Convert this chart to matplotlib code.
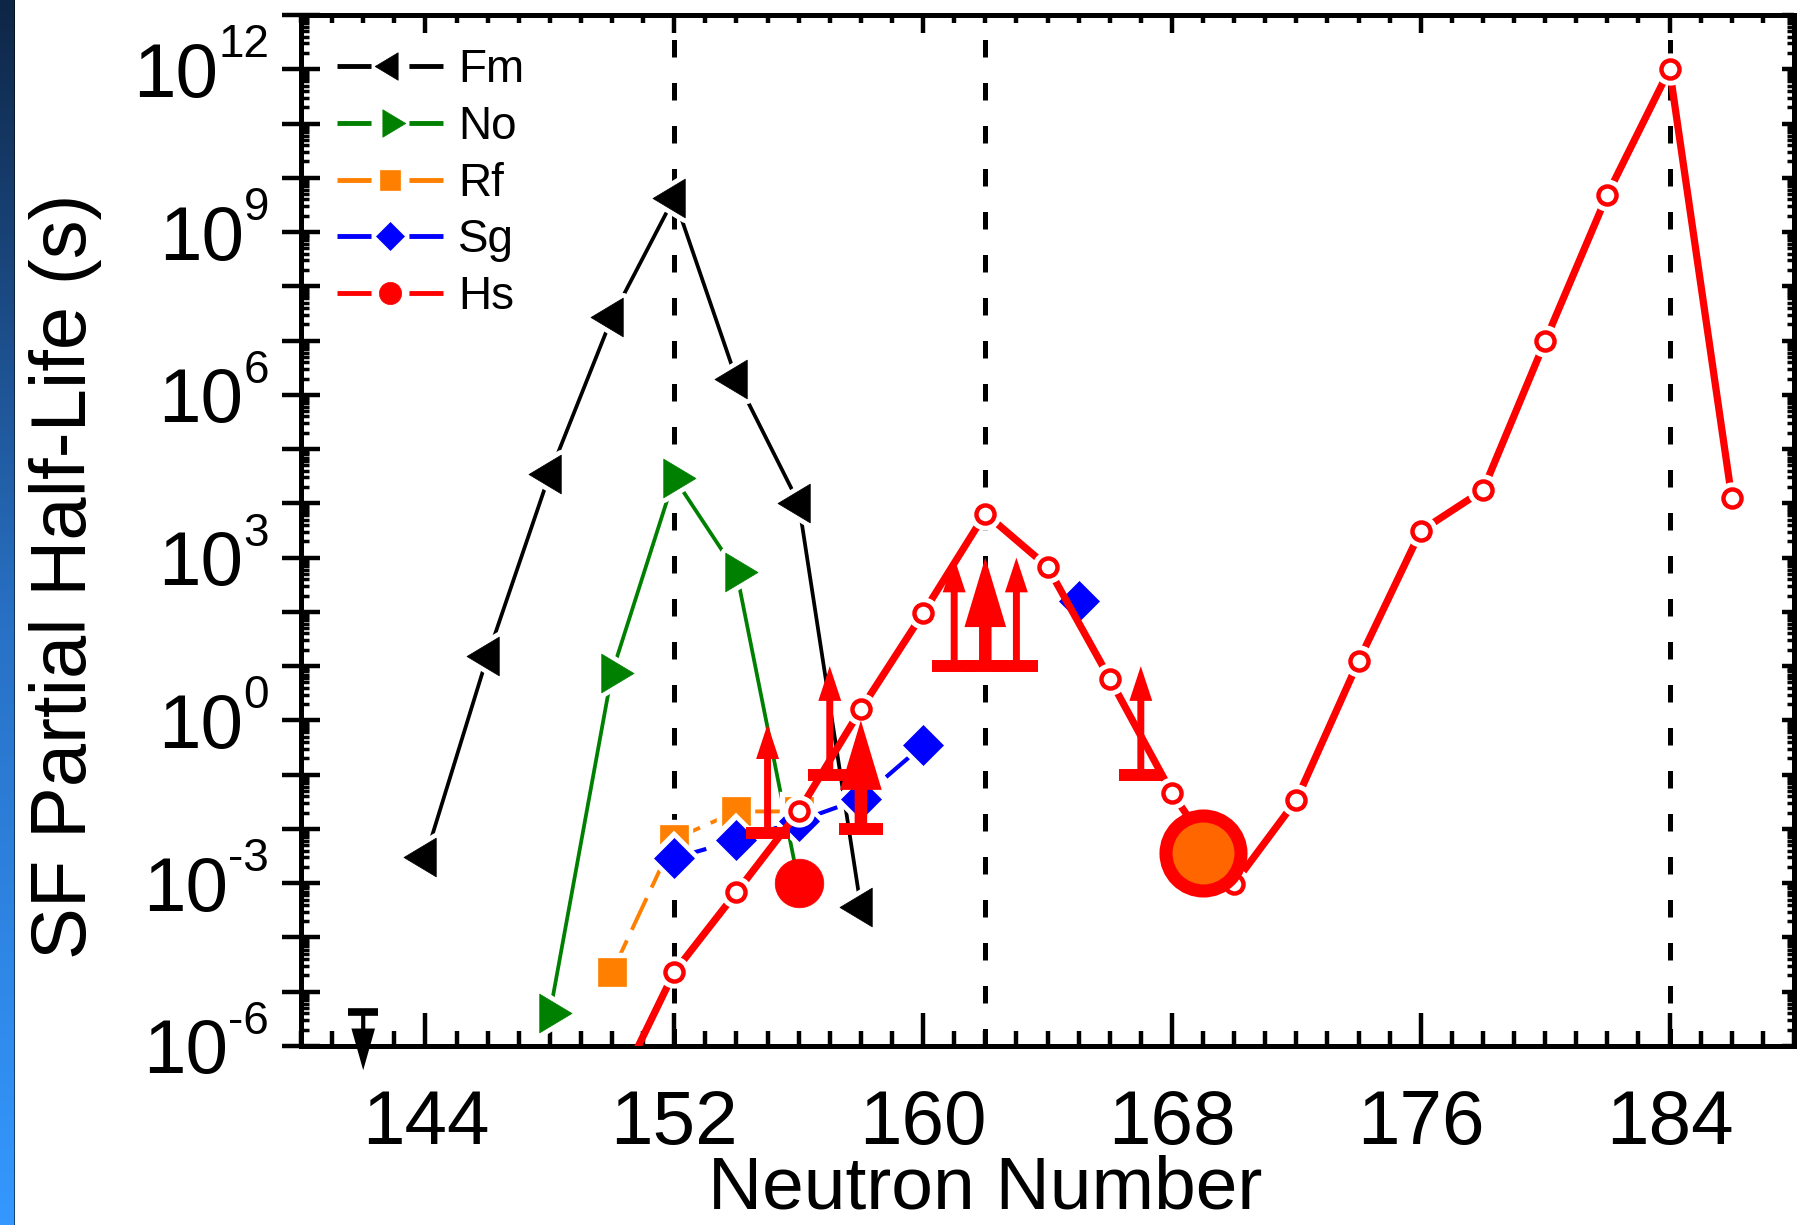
import numpy as np
import matplotlib
matplotlib.use('Agg')
import matplotlib.pyplot as plt
from matplotlib.path import Path
from matplotlib.markers import MarkerStyle
from matplotlib.lines import Line2D
from matplotlib.patches import FancyArrowPatch, ArrowStyle
from matplotlib.ticker import FixedLocator, LogLocator, NullFormatter, MultipleLocator
import matplotlib.transforms as mtransforms

plt.rcParams['font.family'] = ['Liberation Sans', 'DejaVu Sans']

# ---------------- data ----------------
fm_n = [144, 146, 148, 150, 152, 154, 156, 158]
fm_t = [3.0e-3, 1.55e1, 3.55e4, 2.7e7, 4.3e9, 1.95e6, 1.02e4, 3.6e-4]
fm_lim_n = [142]
fm_lim_t = [4.3e-6]          # upper limit

no_n = [148, 150, 152, 154, 156]
no_t = [4.0e-6, 7.6, 2.95e4, 5.4e2, 1.0e-3]

rf_n = [150, 152, 154, 156]
rf_t = [2.3e-5, 6.5e-3, 2.1e-2, 2.1e-2]

sg_n = [152, 154, 156, 158, 160]
sg_t = [2.9e-3, 6.2e-3, 1.4e-2, 3.6e-2, 0.35]
sg_iso_n = [165]
sg_iso_t = [1.6e2]

hs_n = [150, 152, 154, 156, 158, 160, 162, 164, 166, 168, 170, 172, 174, 176,
        178, 180, 182, 184, 186]
hs_t = [1.0e-7, 2.3e-5, 6.8e-4, 2.1e-2, 1.6, 95, 6.5e3, 6.8e2, 5.9, 4.6e-2,
        9.8e-4, 3.4e-2, 12.3, 3.1e3, 1.74e4, 9.8e6, 4.9e9, 1.0e12, 1.26e4]

hs_exp_n = [156]
hs_exp_t = [1.0e-3]
hs_new_n = [169]
hs_new_t = [3.6e-3]

hs_lim_n = [155, 157, 158, 161, 162, 163, 167]
hs_lim_t = [8.5e-3, 0.1, 1.0e-2, 10, 10, 10, 0.1]       # lower limits
hs_lim_thick = [False, False, True, False, True, False, False]

magic_n = [152, 162, 184]

xticks_major = [144, 152, 160, 168, 176, 184]
ytick_exponents = [-6, -3, 0, 3, 6, 9, 12]
legend_labels = ['Fm', 'No', 'Rf', 'Sg', 'Hs']

# ---------------- figure ----------------
W, H = 1799, 1225
fig = plt.figure(figsize=(W / 100, H / 100), dpi=100)

# left gradient strip
sax = fig.add_axes([0, 0, 15 / W, 1])
sax.axis('off')
stops_y = [0.0, 0.5, 1.0]
stops_c = np.array([[14, 38, 70], [40, 112, 196], [52, 152, 255]]) / 255.0
yy = np.linspace(0, 1, 256)
grad = np.stack([np.interp(yy, stops_y, stops_c[:, k]) for k in range(3)], axis=-1)
img = np.repeat(grad[:, None, :], 15, axis=1)
img[:, 14, :] = img[:, 14, :] * 0.45
sax.imshow(img, aspect='auto', interpolation='nearest', extent=[0, 1, 0, 1])

ax = fig.add_axes([301 / W, (H - 1046) / H, (1794 - 301) / W, (1046 - 15) / H])
ax.set_yscale('log')
ax.set_xlim(140, 188)
ax.set_ylim(1e-6, 1e13)

for s in ax.spines.values():
    s.set_linewidth(3.6)

# magic numbers
for m in magic_n:
    ax.axvline(m, color='black', lw=3.6, ls=(0, (3.5, 5.1)), zorder=1)

# custom triangles centred on centroid
def tri(direction):
    if direction == 'left':
        v = [(-2 / 3, 0), (1 / 3, 0.6), (1 / 3, -0.6), (-2 / 3, 0)]
    else:
        v = [(2 / 3, 0), (-1 / 3, 0.6), (-1 / 3, -0.6), (2 / 3, 0)]
    p = Path(v, [Path.MOVETO, Path.LINETO, Path.LINETO, Path.CLOSEPOLY])
    return MarkerStyle(p, joinstyle='round')

tri_l = tri('left')
tri_r = tri('right')

HALO = 7.0

def series(n, t, marker, color, ms, lw, ls, z, mfc=None, mew=0.5, line=True):
    if line:
        ax.plot(n, t, color=color, lw=lw, ls=ls, zorder=z, solid_capstyle='butt',
                dash_capstyle='butt')
    ax.plot(n, t, ls='none', marker=marker, ms=ms, mfc='white', mec='white',
            mew=mew + HALO, zorder=z + 0.1)
    ax.plot(n, t, ls='none', marker=marker, ms=ms, mfc=mfc if mfc else color,
            mec=color, mew=mew, zorder=z + 0.2)

series(fm_n, fm_t, tri_l, 'black', 31, 2.7, '-', 2)
series(no_n, no_t, tri_r, '#008000', 31, 2.7, '-', 3)
series(rf_n, rf_t, 's', '#ff8000', 20.5, 2.8, (0, (9, 3)), 4)
series(sg_n, sg_t, 'D', '#0000ff', 20, 3.0, (0, (8, 3)), 5)
series(sg_iso_n, sg_iso_t, 'D', '#0000ff', 20, 3.0, '-', 5, line=False)
series(hs_n, hs_t, 'o', '#ff0000', 13, 5.2, '-', 6, mfc='white', mew=3.2)

# limits (arrows)
def limit_arrow(x, y, factor, color, tail, hl, hw, cap_ms, cap_mew, z):
    ax.plot([x], [y], marker='_', ms=cap_ms, mew=cap_mew, color=color,
            zorder=z, clip_on=False, ls='none')
    style = ArrowStyle.Simple(head_length=hl, head_width=hw, tail_width=tail)
    arr = FancyArrowPatch(posA=(x, y), posB=(x, y * factor), arrowstyle=style,
                          mutation_scale=1, lw=0, color=color, shrinkA=0, shrinkB=0,
                          zorder=z, clip_on=False)
    ax.add_patch(arr)

for n, t, thick in zip(hs_lim_n, hs_lim_t, hs_lim_thick):
    if thick:
        limit_arrow(n, t, 100, '#ff0000', 9, 50, 30, 31.7, 8.6, 7.5)
    else:
        limit_arrow(n, t, 100, '#ff0000', 5, 25, 16.5, 31.7, 8.6, 7)

for n, t in zip(fm_lim_n, fm_lim_t):
    limit_arrow(n, t, 1 / 12.0, 'black', 3, 30, 17, 21, 5.5, 7)

# experimental Hs
ax.plot(hs_exp_n, hs_exp_t, ls='none', marker='o', ms=35, mfc='#ff0000',
        mec='#ff0000', mew=0.5, zorder=8)
ax.plot(hs_new_n, hs_new_t, ls='none', marker='o', ms=54, mfc='#ff6600',
        mec='#ff0000', mew=9.4, zorder=8)

# ---------------- ticks ----------------
ax.xaxis.set_major_locator(FixedLocator(xticks_major))
ax.xaxis.set_minor_locator(MultipleLocator(1))
ax.tick_params(axis='x', which='major', direction='in', length=24, width=3.2,
               labelsize=55, pad=31, top=False)
ax.tick_params(axis='x', which='minor', direction='in', length=11, width=3.2, top=False)

ymaj = [10.0 ** k for k in range(-6, 14)]
ax.yaxis.set_major_locator(FixedLocator(ymaj))
ax.yaxis.set_minor_locator(LogLocator(base=10, subs=np.arange(2, 10), numticks=100))
ax.yaxis.set_minor_formatter(NullFormatter())
ax.yaxis.set_major_formatter(NullFormatter())
ax.tick_params(axis='y', which='major', direction='inout', length=27, width=3.2,
               right=False)
ax.tick_params(axis='y', which='minor', direction='in', length=6, width=2.5, right=False)

# y tick labels: "10" with a small superscript exponent
ytrans = mtransforms.blended_transform_factory(ax.transAxes, ax.transData)
sup_off = mtransforms.ScaledTranslation(0, 12 / 100, fig.dpi_scale_trans)
for k in ytick_exponents:
    sup = ax.text(-0.0214, 10.0 ** k, '%d' % k, fontsize=33, ha='right',
                  va='baseline', transform=ytrans + sup_off, clip_on=False)
    ax.annotate('10', xy=(0, 10.0 ** k), xycoords=(sup, ax.transData),
                xytext=(0, 0), textcoords='offset points', fontsize=55,
                ha='right', va='center_baseline', annotation_clip=False)

top = ax.secondary_xaxis('top')
top.xaxis.set_major_locator(FixedLocator(xticks_major))
top.xaxis.set_minor_locator(MultipleLocator(1))
top.tick_params(which='major', direction='in', length=13, width=3.2, labeltop=False)
top.tick_params(which='minor', direction='in', length=6, width=3.2)
top.spines['top'].set_linewidth(3.6)

right = ax.secondary_yaxis('right')
right.yaxis.set_major_locator(FixedLocator(ymaj))
right.yaxis.set_minor_locator(LogLocator(base=10, subs=np.arange(2, 10), numticks=100))
right.yaxis.set_minor_formatter(NullFormatter())
right.tick_params(which='major', direction='in', length=9, width=3.2, labelright=False)
right.tick_params(which='minor', direction='in', length=5, width=2.5)
right.spines['right'].set_linewidth(3.6)

ax.set_xlabel('Neutron Number', fontsize=54)
ax.xaxis.set_label_coords(0.458, -0.1057)
ax.set_ylabel('SF Partial Half-Life (s)', fontsize=56)
ax.yaxis.set_label_coords(-0.1333, 0.4554)

# ---------------- legend ----------------
leg_colors = ['black', '#008000', '#ff8000', '#0000ff', '#ff0000']
leg_markers = [tri_l, tri_r, 's', 'D', 'o']
leg_ms = [22, 22, 14.4, 14.7, 16]
handles = [Line2D([], [], color=c, lw=3.5, ls=(0, (7.0, 7.8)), marker=m, ms=s,
                  mfc=c, mec=c, mew=0.5)
           for c, m, s in zip(leg_colors, leg_markers, leg_ms)]
ax.legend(handles=handles, labels=legend_labels, loc='upper left',
          bbox_to_anchor=(337 / W, 1 - 48 / H), bbox_transform=fig.transFigure,
          frameon=False, fontsize=33, handlelength=2.31, handletextpad=0.33,
          labelspacing=0.28, borderpad=0, borderaxespad=0, numpoints=1)

fig.savefig('out.png', dpi=100)
